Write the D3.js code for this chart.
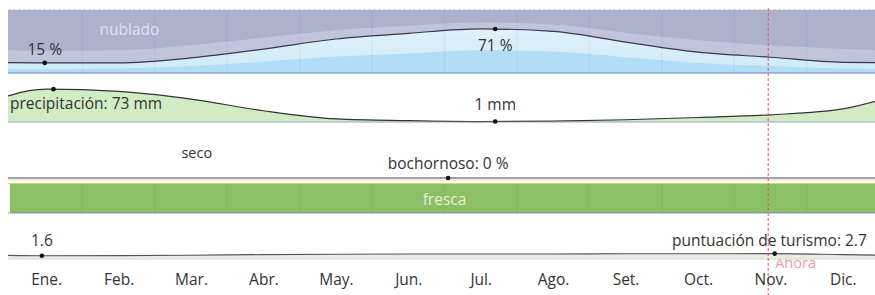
<!DOCTYPE html>
<html>
<head>
<meta charset="utf-8">
<script src="https://cdn.jsdelivr.net/npm/d3@7"></script>
<style>
  html, body { margin: 0; padding: 0; background: #ffffff; }
  svg { display: block; }
  text { font-family: "Open Sans", "Noto Sans", sans-serif; }
</style>
</head>
<body>
<svg id="chart" width="875" height="295"></svg>
<script>
// ---------------- DATA ----------------
const months = ["Ene.", "Feb.", "Mar.", "Abr.", "May.", "Jun.", "Jul.", "Ago.", "Set.", "Oct.", "Nov.", "Dic."];
// % of time clear / mostly clear / partly cloudy (main line)
const cloudClearPct = [16, 16, 24, 38, 54, 63, 70, 66, 49, 33, 25, 17];
// deeper-blue layer (clear sky)
const cloudDeepBluePct = [6, 7, 11, 18, 26, 31, 36, 34, 25, 16, 11, 7];
// lighter lavender layer (mostly cloudy upper edge)
const cloudPartlyPct = [35, 36, 44, 56, 68, 75, 80, 77, 64, 52, 44, 38];
// monthly precipitation (mm)
const precipMm = [73, 68, 51, 25, 7, 3, 1, 2, 5, 10, 16, 29];
// % of time muggy
const muggyPct = [0, 0, 0, 0, 0, 0, 0, 0, 0, 0, 0, 0];
// temperature category per month
const tempCategory = ["fresca", "fresca", "fresca", "fresca", "fresca", "fresca", "fresca", "fresca", "fresca", "fresca", "fresca", "fresca"];
// tourism score
const tourismScore = [1.6, 1.7, 1.9, 2.2, 2.4, 2.5, 2.5, 2.5, 2.6, 2.6, 2.7, 2.2];
// annotations (month position, text)
const cloudLabels = [{ m: 0.48, text: "15 %", above: true }, { m: 6.7, text: "71 %", above: false }];
const precipLabels = [{ m: 0.6, text: "precipitación: 73 mm" }, { m: 6.7, text: "1 mm" }];
const muggyLabel = { m: 6.05, text: "bochornoso: 0 %" };
const tourismLabels = [{ m: 0.44, text: "1.6" }, { m: 10.56, text: "puntuación de turismo: 2.7" }];
const nowMonth = 10.47;

// ---------------- LAYOUT ----------------
const W = 875, H = 295;
const FS = 15.5;
const svg = d3.select("#chart");
const x = d3.scaleLinear().domain([0, 12]).range([10, 879]);
const left = 8, right = 875;

const band = {
  cloud: [10, 73], precip: [86, 122], hum: [130, 178], temp: [184, 213], tour: [239, 259]
};
const yCloud = d3.scaleLinear().domain([0, 100]).range([band.cloud[1], band.cloud[0]]);
const yPrecip = d3.scaleLinear().domain([0, 80]).range([band.precip[1], band.precip[0]]);
const yHum = d3.scaleLinear().domain([0, 100]).range([band.hum[1], band.hum[0]]);
const yTour = d3.scaleLinear().domain([0, 10]).range([band.tour[1], band.tour[0]]);

// cyclic extension (repeat Dec before Jan and Jan after Dec)
function cyc(arr) {
  const pts = arr.map((v, i) => [i + 0.5, v]);
  return [[-0.5, arr[11]], ...pts, [12.5, arr[0]]];
}
const curve = d3.curveMonotoneX;

const defs = svg.append("defs");
defs.append("clipPath").attr("id", "clip")
  .append("rect").attr("x", left).attr("y", 0).attr("width", right - left).attr("height", H);

// "Ahora" label drawn first so the tourism band sits over it, as in the reference
const nx = x(nowMonth);
svg.append("text").attr("x", nx + 7).attr("y", 268).attr("fill", "#ef8a8a").attr("font-size", 14.5)
  .attr("opacity", 0.85).text("Ahora");

const g = svg.append("g").attr("clip-path", "url(#clip)");

// ---------------- CLOUD BAND ----------------
const cTop = band.cloud[0], cBot = band.cloud[1];
g.append("rect").attr("x", left).attr("y", cTop).attr("width", right - left).attr("height", cBot - cTop)
  .attr("fill", "#adb1cc");
const areaC = (arr, base) => d3.area().x(d => x(d[0])).y0(base).y1(d => yCloud(d[1])).curve(curve)(cyc(arr));
g.append("path").attr("d", areaC(cloudPartlyPct, cBot)).attr("fill", "#c1c5dc");
const grad = defs.append("linearGradient").attr("id", "blueGrad")
  .attr("gradientUnits", "userSpaceOnUse").attr("x1", 0).attr("x2", 0).attr("y1", cTop).attr("y2", cBot);
grad.append("stop").attr("offset", "0%").attr("stop-color", "#e8f4fb");
grad.append("stop").attr("offset", "100%").attr("stop-color", "#cdeaf8");
g.append("path").attr("d", areaC(cloudClearPct, cBot)).attr("fill", "url(#blueGrad)");
g.append("path").attr("d", areaC(cloudDeepBluePct, cBot)).attr("fill", "#b2def5");
const cloudLine = g.append("path")
  .attr("d", d3.line().x(d => x(d[0])).y(d => yCloud(d[1])).curve(curve)(cyc(cloudClearPct)))
  .attr("fill", "none").attr("stroke", "#3a3550").attr("stroke-width", 1.2);
g.append("line").attr("x1", left).attr("x2", right).attr("y1", cTop).attr("y2", cTop)
  .attr("stroke", "#a0a0ae").attr("stroke-width", 0.8).attr("stroke-dasharray", "3,2");
g.append("line").attr("x1", left).attr("x2", right).attr("y1", cBot).attr("y2", cBot)
  .attr("stroke", "#6a7fc6").attr("stroke-width", 1);

// ---------------- PRECIP BAND ----------------
const pBot = band.precip[1];
g.append("path")
  .attr("d", d3.area().x(d => x(d[0])).y0(pBot).y1(d => yPrecip(d[1])).curve(curve)(cyc(precipMm)))
  .attr("fill", "#d1ebc4");
const precipLine = g.append("path")
  .attr("d", d3.line().x(d => x(d[0])).y(d => yPrecip(d[1])).curve(curve)(cyc(precipMm)))
  .attr("fill", "none").attr("stroke", "#333").attr("stroke-width", 1.2);
g.append("line").attr("x1", left).attr("x2", right).attr("y1", pBot).attr("y2", pBot)
  .attr("stroke", "#7a94b8").attr("stroke-width", 0.8);

// ---------------- HUMIDITY BAND ----------------
g.append("line").attr("x1", left).attr("x2", right).attr("y1", band.hum[1] + 2).attr("y2", band.hum[1] + 2)
  .attr("stroke", "#d8d8d8").attr("stroke-width", 1);
const humLine = g.append("path")
  .attr("d", d3.line().x(d => x(d[0])).y(d => yHum(d[1])).curve(curve)(cyc(muggyPct)))
  .attr("fill", "none").attr("stroke", "#444").attr("stroke-width", 1.2);

// ---------------- TEMPERATURE BAND ----------------
const tempColor = { "fresca": "#8cc064" };
g.selectAll("rect.temp").data(tempCategory).join("rect").attr("class", "temp")
  .attr("x", (d, i) => x(i)).attr("y", band.temp[0])
  .attr("width", (d, i) => x(i + 1) - x(i) + 0.5).attr("height", band.temp[1] - band.temp[0])
  .attr("fill", d => tempColor[d]);
g.append("line").attr("x1", left).attr("x2", right).attr("y1", band.temp[0] - 0.5).attr("y2", band.temp[0] - 0.5)
  .attr("stroke", "#d9d56e").attr("stroke-width", 1);
g.append("line").attr("x1", left).attr("x2", right).attr("y1", band.temp[1]).attr("y2", band.temp[1])
  .attr("stroke", "#7088aa").attr("stroke-width", 0.8);

// ---------------- TOURISM BAND ----------------
const tBot = band.tour[1];
g.append("path")
  .attr("d", d3.area().x(d => x(d[0])).y0(tBot).y1(d => yTour(d[1])).curve(curve)(cyc(tourismScore)))
  .attr("fill", "#e8eadf").attr("opacity", 0.85);
const tourLine = g.append("path")
  .attr("d", d3.line().x(d => x(d[0])).y(d => yTour(d[1])).curve(curve)(cyc(tourismScore)))
  .attr("fill", "none").attr("stroke", "#555").attr("stroke-width", 1.1);
g.append("line").attr("x1", left).attr("x2", right).attr("y1", tBot).attr("y2", tBot)
  .attr("stroke", "#d8d8d8").attr("stroke-width", 1);

// ---------------- MONTH GRID ----------------
const bounds = d3.range(1, 12);
[[band.cloud[0], band.cloud[1], "rgba(90,95,140,0.07)"], [band.temp[0], band.temp[1], "rgba(60,100,40,0.07)"]]
  .forEach(([y0, y1, c]) => {
    g.selectAll(null).data(bounds).join("line")
      .attr("x1", d => x(d)).attr("x2", d => x(d)).attr("y1", y0).attr("y2", y1)
      .attr("stroke", c).attr("stroke-width", 1.5);
  });

// ---------------- helpers ----------------
function yAt(pathSel, px) {
  const node = pathSel.node();
  const L = node.getTotalLength();
  let lo = 0, hi = L;
  for (let k = 0; k < 40; k++) {
    const mid = (lo + hi) / 2;
    if (node.getPointAtLength(mid).x < px) lo = mid; else hi = mid;
  }
  return node.getPointAtLength((lo + hi) / 2).y;
}
function dot(pathSel, m) {
  const px = x(m), py = yAt(pathSel, px);
  g.append("circle").attr("cx", px).attr("cy", py).attr("r", 2.3).attr("fill", "#111");
  return [px, py];
}
const txt = (px, py, s, anchor, color, size) =>
  svg.append("text").attr("x", px).attr("y", py).attr("text-anchor", anchor || "middle")
    .attr("fill", color || "#333").attr("font-size", size || FS).text(s);

// ---------------- LABELS ----------------
txt(x(1.65), 35, "nublado", "middle", "#dde0ec");
cloudLabels.forEach(l => {
  const [px] = dot(cloudLine, l.m);
  txt(px, l.above ? 55 : 51, l.text);
});
precipLabels.forEach((l, i) => {
  const [px] = dot(precipLine, l.m);
  if (i === 0) txt(10, 109, l.text, "start");
  else txt(px, 110, l.text);
});
txt(x(2.58), 158, "seco", "middle", "#333", 14.5);
{
  const [px] = dot(humLine, muggyLabel.m);
  txt(px, 169, muggyLabel.text);
}
txt(x(6.0), 205, tempCategory[6], "middle", "#e6f0d6");
tourismLabels.forEach((l, i) => {
  const [px] = dot(tourLine, l.m);
  if (i === 0) txt(px, 246, l.text);
  else txt(672, 246, l.text, "start");
});

// ---------------- NOW LINE ----------------
svg.append("line").attr("x1", nx).attr("x2", nx).attr("y1", 8).attr("y2", H)
  .attr("stroke", "#e0506a").attr("stroke-width", 1).attr("stroke-dasharray", "3,2");

// ---------------- MONTH AXIS ----------------
const axis = d3.axisBottom(x).tickValues(d3.range(12).map(i => i + 0.5))
  .tickFormat((d, i) => months[i]).tickSize(0);
const ax = svg.append("g").attr("transform", "translate(0,271)").call(axis);
ax.select(".domain").remove();
ax.selectAll("text").attr("font-size", FS).attr("fill", "#333")
  .attr("font-family", "'Open Sans', 'Noto Sans', sans-serif").attr("dy", "0.71em");
</script>
</body>
</html>
